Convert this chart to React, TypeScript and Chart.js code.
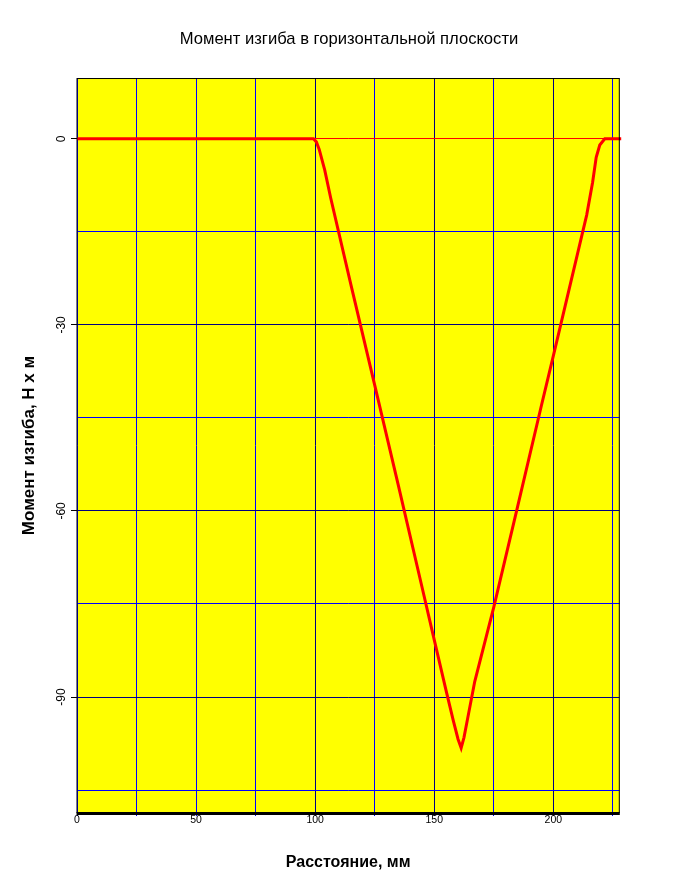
import React, { useEffect, useRef } from "react";
import { Chart, registerables } from "chart.js";

Chart.register(...registerables);

const chartTitle = "Момент изгиба в горизонтальной плоскости";
const xTitle = "Расстояние, мм";
const yTitle = "Момент изгиба, Н х м";

const distance = [0, 99.3, 100.5, 101.7, 104, 106.5, 115, 125, 135, 145, 150, 155, 158, 160, 161.3, 162.5, 164, 167, 175, 185, 195, 200, 205, 210, 214, 216.5, 218, 219.5, 221.6, 228.5];
const moment = [0, 0, -0.5, -1.7, -5, -9.5, -23.5, -39.7, -56, -72.5, -80.8, -89, -93.8, -96.8, -98.2, -96.5, -93.5, -87.5, -75.5, -59.3, -43, -35, -26.9, -18.8, -12.3, -7, -3, -1, 0, 0];

const xMin = 0;
const xMax = 227.7;
const xStep = 25;
const xLabelEvery = 50;
const yMin = -108.7;
const yMax = 9.8;
const yStep = 15;
const yLabelEvery = 30;

const FONT = "'Liberation Sans', Arial, sans-serif";
const MAJOR = "#000080";
const MINOR = "#0000ff";

const framePlugin = {
  id: "frame",
  afterDatasetsDraw(chart: any) {
    const { ctx, chartArea } = chart;
    const { left, right, top, bottom } = chartArea;
    ctx.save();
    ctx.fillStyle = "#000";
    ctx.fillRect(left, top, right - left, 1);
    ctx.fillRect(left - 0.5, top, 1, bottom - top);
    ctx.fillRect(right - 0.5, top, 1, bottom - top);
    ctx.fillRect(left - 0.5, bottom - 1, right - left + 1, 3);
    ctx.restore();
  },
};

const bgPlugin = {
  id: "plotbg",
  beforeDraw(chart: any) {
    const { ctx, chartArea } = chart;
    ctx.save();
    ctx.fillStyle = "#ffffff";
    ctx.fillRect(0, 0, chart.width, chart.height);
    ctx.fillStyle = "#ffff00";
    ctx.fillRect(chartArea.left, chartArea.top, chartArea.right - chartArea.left, chartArea.bottom - chartArea.top);
    ctx.restore();
  },
};

const xLineColor = (c: any) => {
  const v = c.tick ? c.tick.value : NaN;
  return v >= 100 && v % xLabelEvery === 0 ? MAJOR : MINOR;
};

export default function App() {
  const ref = useRef<HTMLCanvasElement | null>(null);

  useEffect(() => {
    if (!ref.current) return;
    const points = distance.map((x, i) => ({ x, y: moment[i] }));
    const chart = new Chart(ref.current, {
      type: "line",
      data: {
        datasets: [
          {
            data: points,
            borderColor: "#ff0000",
            backgroundColor: "#ff0000",
            borderWidth: 3,
            pointRadius: 0,
            tension: 0,
            clip: false as any,
          },
        ],
      },
      plugins: [bgPlugin, framePlugin],
      options: {
        animation: false,
        responsive: false,
        devicePixelRatio: 1,
        layout: { padding: 0 },
        plugins: {
          legend: { display: false },
          tooltip: { enabled: false },
          title: {
            display: true,
            text: chartTitle,
            color: "#000",
            font: { family: FONT, size: 16.6, weight: "normal" },
            padding: { top: 29, bottom: 29.1 },
          },
        },
        scales: {
          x: {
            type: "linear",
            min: xMin,
            max: xMax,
            afterFit: (s: any) => {
              s.height = 80;
            },
            border: { display: false },
            grid: {
              color: xLineColor,
              tickColor: xLineColor,
              lineWidth: 1,
              tickLength: 3,
            },
            ticks: {
              stepSize: xStep,
              includeBounds: false,
              autoSkip: false,
              maxRotation: 0,
              minRotation: 0,
              padding: -2,
              color: "#000",
              font: { family: FONT, size: 10.5 },
              callback: (v: any) => (Number(v) % xLabelEvery === 0 ? String(v) : ""),
            },
            title: {
              display: true,
              text: xTitle,
              color: "#000",
              font: { family: FONT, size: 16, weight: "bold" },
              padding: { top: 0, bottom: 20.4 },
            },
          },
          y: {
            type: "linear",
            position: "left",
            min: yMin,
            max: yMax,
            afterFit: (s: any) => {
              s.width = 77;
            },
            border: { display: false },
            grid: {
              color: (c: any) => {
                const v = c.tick ? c.tick.value : NaN;
                if (v === 0) return "#ff0000";
                return v % yLabelEvery === 0 ? MAJOR : MINOR;
              },
              tickColor: (c: any) => (c.tick && c.tick.value % yLabelEvery === 0 ? "#000" : "rgba(0,0,0,0)"),
              lineWidth: 1,
              tickLength: 6,
            },
            ticks: {
              stepSize: yStep,
              includeBounds: false,
              autoSkip: false,
              minRotation: 90,
              maxRotation: 90,
              crossAlign: "center",
              padding: 1,
              color: "#000",
              font: { family: FONT, size: 12 },
              callback: (v: any) => (Number(v) % yLabelEvery === 0 ? String(v) : ""),
            },
            title: {
              display: true,
              text: yTitle,
              color: "#000",
              font: { family: FONT, size: 17, weight: "bold" },
              padding: { top: 18.8, bottom: 0 },
            },
          },
          yRight: {
            type: "linear",
            position: "right",
            min: yMin,
            max: yMax,
            afterFit: (s: any) => {
              s.width = 78.7;
            },
            border: { display: false },
            grid: { display: false, drawTicks: false },
            ticks: { display: false },
            title: { display: false },
          },
        },
      },
    } as any);
    return () => chart.destroy();
  }, []);

  return (
    <div style={{ position: "fixed", left: 0, top: 0, width: 698, height: 893, background: "#fff" }}>
      <canvas ref={ref} width={698} height={893} style={{ display: "block", width: 698, height: 893 }} />
    </div>
  );
}
